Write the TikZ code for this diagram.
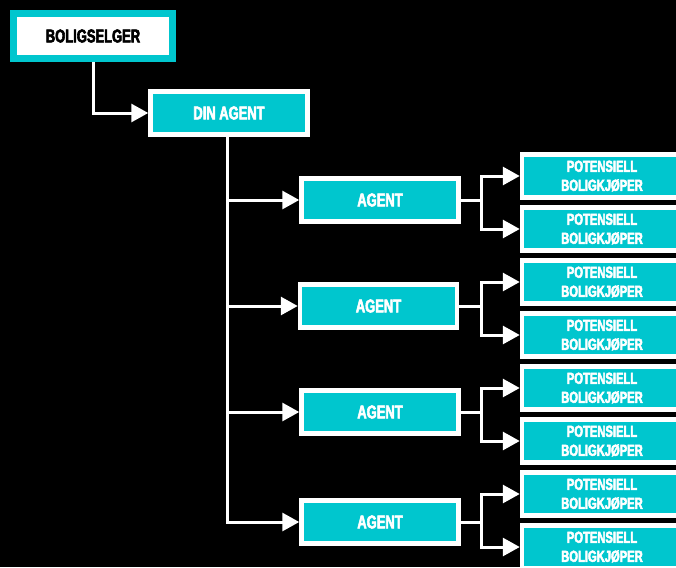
\documentclass[tikz,border=0pt]{standalone}
\usepackage{fontspec}
\newfontfamily\cf{Liberation Sans Bold}[FakeStretch=0.7,FakeBold=3]
\usetikzlibrary{arrows.meta}
\definecolor{tcyan}{RGB}{0,198,206}
\begin{document}
\begin{tikzpicture}[x=1pt,y=-1pt,
  every node/.style={align=center, inner sep=0pt},
  seller/.style={draw=tcyan, line width=7pt, fill=white, text=black, minimum width=159pt, minimum height=45pt, font=\cf\fontsize{18.5}{19}\selectfont},
  box/.style={draw=white, line width=4.5pt, fill=tcyan, text=white, minimum width=157pt, minimum height=43pt, font=\cf\fontsize{18.5}{19}\selectfont},
  buyer/.style={box, minimum width=160pt, minimum height=43pt, font=\cf\fontsize{16}{19}\selectfont},
  conn/.style={draw=white, line width=3pt},
  arr/.style={conn, -{Triangle[length=17pt,width=18pt]}}]
\fill[black] (0,0) rectangle (676,567);
\useasboundingbox (0,0) rectangle (676,567);
\clip (0,0) rectangle (676,567);
\node[seller] (sel) at (93,36) {BOLIGSELGER};
\node[box] (din) at (229,113) {DIN AGENT};
\node[box] (a1) at (380,200) {AGENT};
\node[box] (a2) at (378.5,306) {AGENT};
\node[box] (a3) at (380,412) {AGENT};
\node[box] (a4) at (380,522) {AGENT};
\foreach \i/\y in {1/176,2/229,3/282,4/335,5/388,6/441,7/494,8/547}
  \node[buyer] (b\i) at (602,\y) {POTENSIELL\\BOLIGKJØPER};
\coordinate (tr) at (227,0);
\draw[arr] (sel.south) |- (din.west);
\foreach \a in {a1,a2,a3,a4}
  \draw[arr] (din.south -| tr) |- (\a.west);
\coordinate (fk) at (481,0);
\foreach \a/\u/\d in {a1/b1/b2,a2/b3/b4,a3/b5/b6,a4/b7/b8}{
  \draw[arr] (\a.east) -- (\a.east -| fk) |- (\u.west);
  \draw[arr] (\a.east) -- (\a.east -| fk) |- (\d.west);
}
\end{tikzpicture}
\end{document}
